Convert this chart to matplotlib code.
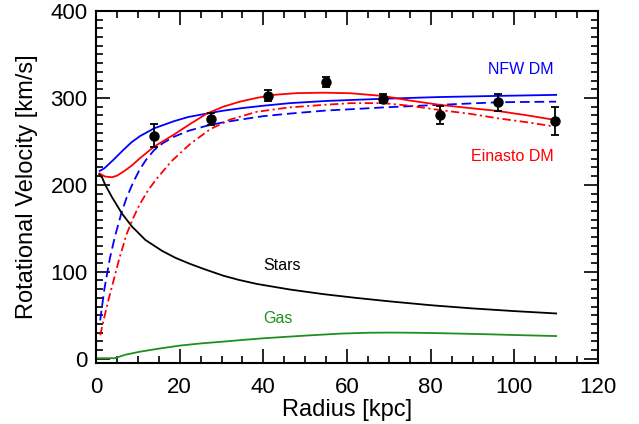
#!/usr/bin/env python3
import numpy as np
import matplotlib
matplotlib.use("Agg")
import matplotlib.pyplot as plt
from matplotlib.ticker import MultipleLocator

plt.rcParams.update({
    'font.family': ['Liberation Sans', 'DejaVu Sans'],
    'lines.scale_dashes': False,
})

# observed points
r_obs = [13.9, 27.6, 41.2, 54.9, 68.5, 82.2, 96.0, 109.7]
v_obs = [256.6, 275.8, 302.6, 318.0, 299.2, 280.4, 295.0, 273.5]
v_err = [13.6, 6.7, 6.3, 5.8, 5.0, 10.0, 10.0, 16.0]

# NFW total
r_nfw = [0.9, 2.0, 4.0, 6.5, 8.5, 10.5, 13.9, 18.5, 22.0, 26.5, 30.0, 34.4,
         40.0, 46.4, 55.0, 68.5, 82.0, 96.0, 110.0]
v_nfw = [216, 219, 228, 240, 249, 256, 265, 273, 278, 282, 285, 288,
         291, 294, 296.5, 299, 301, 302.3, 303.5]

# NFW dark matter only
r_nfw_dm = [1.0, 2.0, 3.3, 4.5, 6.1, 7.3, 9.0, 10.5, 12.0, 13.9, 16.0, 18.5,
            22.0, 26.5, 30.0, 34.4, 40.0, 46.4, 55.0, 61.0, 68.5, 82.0, 96.0, 110.0]
v_nfw_dm = [44, 80, 115, 140, 168, 185, 204, 218, 229, 240, 248, 255,
            262, 268, 271.5, 275, 279, 282, 285.5, 287, 289, 292, 295, 295.7]

# Einasto total
r_ein = [0.8, 2.2, 3.8, 5.0, 6.5, 8.5, 10.5, 13.9, 18.5, 22.5, 26.5, 30.5,
         34.4, 38.4, 42.4, 48.0, 54.4, 60.7, 68.5, 75.0, 82.2, 89.0, 96.0, 103.0, 109.7]
v_ein = [213, 209.5, 208.7, 210.5, 215, 222, 230.6, 244, 257.4, 270, 282, 290,
         295.7, 300, 303.5, 305.5, 306, 305.4, 302.3, 297, 292, 288.5, 285, 280, 274.7]

# Einasto dark matter only
r_ein_dm = [1.0, 2.0, 3.0, 4.1, 5.5, 7.3, 9.0, 10.5, 12.5, 14.5, 18.0, 22.5,
            27.3, 32.0, 38.4, 46.0, 54.4, 61.0, 68.5, 75.0, 82.2, 89.0, 96.0, 103.0, 109.7]
v_ein_dm = [27, 48, 68, 88, 114, 143, 163, 178, 194, 207, 227, 247,
            264, 275, 284, 289, 292, 294, 294, 291, 286, 282, 276.6, 272, 267]

# stars
r_star = [0.8, 1.5, 2.2, 3.8, 6.2, 8.6, 11.8, 15.8, 19.0, 22.5, 26.0, 30.4,
          34.0, 38.4, 46.4, 54.4, 62.0, 70.0, 80.0, 90.0, 100.0, 110.0]
v_star = [212, 208, 200, 186, 167, 152, 136.6, 124, 116, 109, 102.8, 95.5,
          90.8, 86, 79.5, 74.2, 70, 66, 61.5, 57.8, 54.7, 52]

# gas
r_gas = [0.5, 4.5, 7.0, 10.5, 15.0, 20.0, 25.0, 30.4, 35.0, 40.2, 50.0, 58.3,
         65.0, 70.3, 76.0, 82.2, 88.0, 94.2, 100.0, 105.0, 110.0]
v_gas = [0.5, 0.5, 4.5, 8, 11.5, 15, 17.5, 19.6, 21.5, 23.5, 26.5, 28.8,
         29.8, 30, 29.8, 29.3, 28.7, 28, 27.2, 26.6, 26]

green = '#1f8f1f'

fig = plt.figure(figsize=(6.39, 4.24), dpi=100)
ax = fig.add_axes([96/639, 1-363/424, (598-96)/639, (363-11)/424])

lw = 1.3
ax.plot(r_nfw, v_nfw, color='blue', lw=lw)
ax.plot(r_nfw_dm, v_nfw_dm, color='blue', lw=lw, linestyle=(0, (7, 3.5)))
ax.plot(r_ein, v_ein, color='red', lw=lw)
ax.plot(r_ein_dm, v_ein_dm, color='red', lw=lw, linestyle=(0, (6, 2.5, 1.5, 2.5)))
ax.plot(r_star, v_star, color='black', lw=lw)
ax.plot(r_gas, v_gas, color=green, lw=lw)

ax.errorbar(r_obs, v_obs, yerr=v_err, fmt='o', color='black', ms=6.5,
            capsize=3, elinewidth=1.3, capthick=1.3)

ax.text(109.5, 333, 'NFW DM', color='blue', fontsize=11.5, ha='right', va='center')
ax.text(109.5, 232.7, 'Einasto DM', color='red', fontsize=11.5, ha='right', va='center')
ax.text(44.5, 107, 'Stars', color='black', fontsize=11.5, ha='center', va='center')
ax.text(43.5, 45.7, 'Gas', color=green, fontsize=11.5, ha='center', va='center')

ax.set_xlim(0, 120)
ax.set_ylim(-5, 400)
ax.xaxis.set_major_locator(MultipleLocator(20))
ax.xaxis.set_minor_locator(MultipleLocator(5))
ax.yaxis.set_major_locator(MultipleLocator(100))
ax.yaxis.set_minor_locator(MultipleLocator(10))
ax.tick_params(which='both', direction='in', top=True, right=True, width=1.2,
               labelsize=16)
ax.tick_params(which='major', length=10)
ax.tick_params(which='minor', length=5)
ax.tick_params(axis='x', pad=10)
ax.tick_params(axis='y', pad=6)
for s in ax.spines.values():
    s.set_linewidth(1.5)

ax.set_xlabel('Radius [kpc]', fontsize=17, labelpad=1)
ax.set_ylabel('Rotational Velocity [km/s]', fontsize=17, labelpad=9)

fig.savefig('out.png', dpi=100)
